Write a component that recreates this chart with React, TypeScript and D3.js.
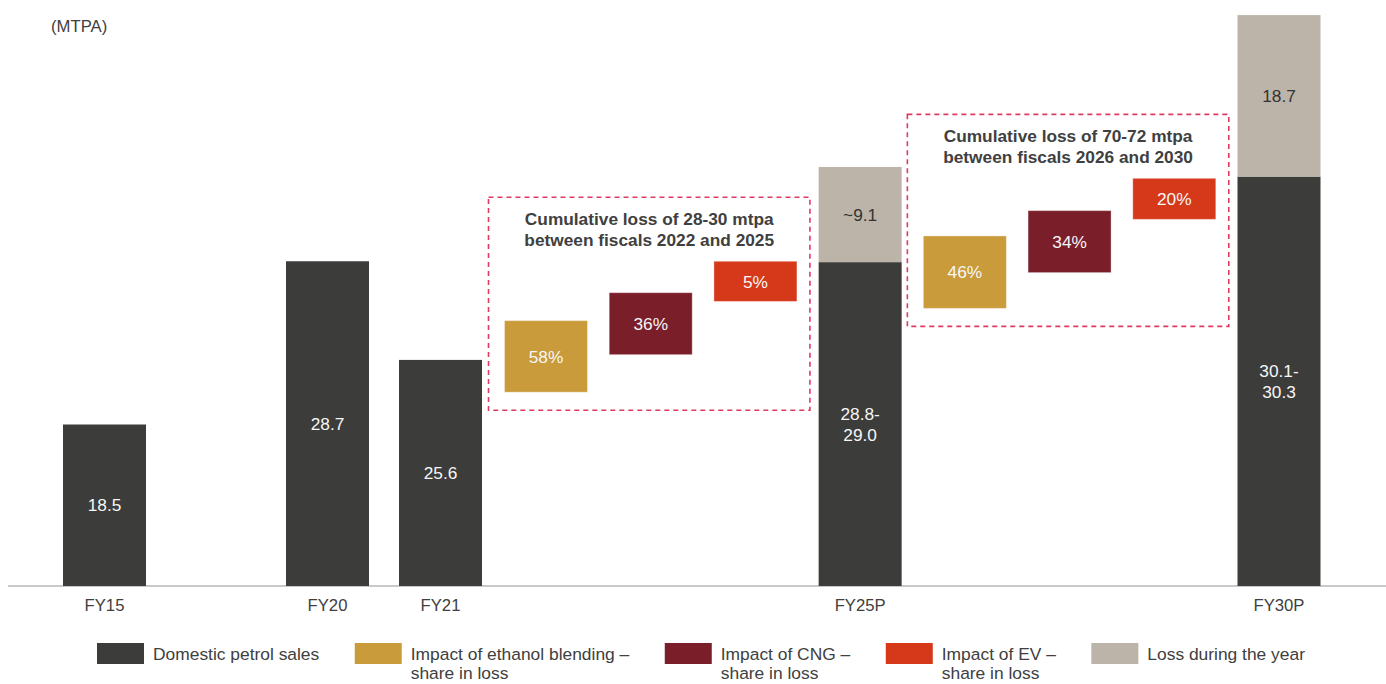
import React, { useEffect, useRef } from "react";
import * as d3 from "d3";

// ---------------- DATA ----------------
// Bars of domestic petrol sales (bar extents as drawn in the picture, MTPA-like units) and their printed labels
const categories = ["FY15", "FY20", "FY21", "FY25P", "FY30P"];
const domesticHeight = [18.5, 37.2, 25.9, 37.1, 46.9];
const domesticLabels = ["18.5", "28.7", "25.6", "28.8-\n29.0", "30.1-\n30.3"];
// Loss during the year, stacked on top of the domestic bar
const lossHeight = [0, 0, 0, 10.9, 18.5];
const lossLabels = ["", "", "", "~9.1", "18.7"];

// Floating impact boxes (share in loss), period 1: FY22-FY25, period 2: FY26-FY30
const impactKeys = ["ethanol", "cng", "ev"];
const period1Low = [22.2, 26.5, 32.6];
const period1High = [30.4, 33.6, 37.2];
const period1Labels = ["58%", "36%", "5%"];
const period2Low = [31.8, 35.9, 42.0];
const period2High = [40.1, 43.0, 46.7];
const period2Labels = ["46%", "34%", "20%"];
const annotationTitles = [
  ["Cumulative loss of 28-30 mtpa", "between fiscals 2022 and 2025"],
  ["Cumulative loss of 70-72 mtpa", "between fiscals 2026 and 2030"],
];

// Order of positions along the x axis (a blank slot between FY15 and FY20)
const slotOrder = ["FY15", "_gap", "FY20", "FY21", "p1-ethanol", "p1-cng", "p1-ev", "FY25P", "p2-ethanol", "p2-cng", "p2-ev", "FY30P"];

const legendLabels = [
  ["Domestic petrol sales"],
  ["Impact of ethanol blending –", "share in loss"],
  ["Impact of CNG –", "share in loss"],
  ["Impact of EV –", "share in loss"],
  ["Loss during the year"],
];
const unitLabel = "(MTPA)";

// ---------------- STYLE ----------------
const COLORS = {
  domestic: "#3C3C3B",
  ethanol: "#C99B3B",
  cng: "#7A1E2A",
  ev: "#D5391A",
  loss: "#BCB4A8",
  dash: "#E03A62",
  text: "#404040",
  axis: "#C9C9C9",
};
const impactColor: Record<string, string> = { ethanol: COLORS.ethanol, cng: COLORS.cng, ev: COLORS.ev };
const legendColors = [COLORS.domestic, COLORS.ethanol, COLORS.cng, COLORS.ev, COLORS.loss];
const FONT = "'Liberation Sans', Arial, Helvetica, sans-serif";

const W = 1386;
const H = 684;

export default function App() {
  const ref = useRef<SVGSVGElement | null>(null);

  useEffect(() => {
    const svg = d3.select(ref.current);
    svg.selectAll("*").remove();

    const baseY = 586;
    const y = d3.scaleLinear().domain([0, 65.41]).range([baseY, 15]);
    const slotIndex = d3.scaleOrdinal<string, number>().domain(slotOrder).range(slotOrder.map((_, i) => i));
    const xSlot = d3.scaleLinear().domain([0, 2, 3, 4, 11]).range([104.5, 327.5, 440.5, 546, 1279]);
    const xc = (key: string) => xSlot(slotIndex(key));
    const bw = 83;
    const fs = 17.3;

    const g = svg.append("g").attr("font-family", FONT);

    // axis baseline
    g.append("line")
      .attr("x1", 8).attr("x2", W).attr("y1", baseY).attr("y2", baseY)
      .attr("stroke", COLORS.axis).attr("stroke-width", 2);

    // multi-line centred text helper
    const centredText = (
      parent: any, cx: number, cy: number, lines: string[], color: string, size: number, weight = "normal", lh = 20.5
    ) => {
      const t = parent.append("text")
        .attr("text-anchor", "middle").attr("fill", color)
        .attr("font-size", size).attr("font-weight", weight);
      const first = cy - ((lines.length - 1) * lh) / 2 + size * 0.358;
      lines.forEach((ln, i) => {
        t.append("tspan").attr("x", cx).attr("y", first + i * lh).text(ln);
      });
      return t;
    };

    // domestic bars
    categories.forEach((c, i) => {
      const cx = xc(c);
      const top = y(domesticHeight[i]);
      g.append("rect")
        .attr("x", cx - bw / 2).attr("width", bw)
        .attr("y", top).attr("height", y(0) - top)
        .attr("fill", COLORS.domestic);
      centredText(g, cx, (top + y(0)) / 2, domesticLabels[i].split("\n"), "#F7F7F7", fs);
      // loss stacked
      if (lossHeight[i] > 0) {
        const lt = y(domesticHeight[i] + lossHeight[i]);
        g.append("rect")
          .attr("x", cx - bw / 2).attr("width", bw)
          .attr("y", lt).attr("height", top - lt)
          .attr("fill", COLORS.loss);
        centredText(g, cx, (lt + top) / 2, lossLabels[i].split("\n"), "#333333", fs);
      }
      // axis label
      g.append("text")
        .attr("x", cx).attr("y", 611).attr("text-anchor", "middle")
        .attr("font-size", 16.7).attr("fill", COLORS.text).text(c);
    });

    // impact groups
    const periods = [
      { prefix: "p1", low: period1Low, high: period1High, labels: period1Labels, title: annotationTitles[0] },
      { prefix: "p2", low: period2Low, high: period2High, labels: period2Labels, title: annotationTitles[1] },
    ];
    periods.forEach((p) => {
      impactKeys.forEach((k, j) => {
        const cx = xc(`${p.prefix}-${k}`);
        const t = y(p.high[j]);
        const b = y(p.low[j]);
        g.append("rect")
          .attr("x", cx - bw / 2).attr("width", bw)
          .attr("y", t).attr("height", b - t)
          .attr("fill", impactColor[k])
          .attr("stroke", "#ffffff").attr("stroke-opacity", 0.35).attr("stroke-width", 1);
        centredText(g, cx, (t + b) / 2, [p.labels[j]], "#F7F7F7", fs);
      });
      const left = xc(`${p.prefix}-${impactKeys[0]}`) - bw / 2 - 16;
      const right = xc(`${p.prefix}-${impactKeys[2]}`) + bw / 2 + 13;
      const top = y(d3.max(p.high) as number) - 64;
      const bottom = y(d3.min(p.low) as number) + 18;
      g.append("rect")
        .attr("x", left).attr("y", top)
        .attr("width", right - left).attr("height", bottom - top)
        .attr("fill", "none").attr("stroke", COLORS.dash)
        .attr("stroke-width", 1.6).attr("stroke-dasharray", "5,4");
      const tt = g.append("text")
        .attr("text-anchor", "middle").attr("fill", COLORS.text)
        .attr("font-size", fs).attr("font-weight", "bold");
      p.title.forEach((ln, i) => {
        tt.append("tspan").attr("x", (left + right) / 2).attr("y", top + 27.6 + i * 21).text(ln);
      });
    });

    // unit label
    g.append("text")
      .attr("x", 51).attr("y", 32.3).attr("font-size", 16.7)
      .attr("fill", COLORS.text).text(unitLabel);

    // legend
    let lx = 97;
    const sw = 47;
    const sh = 21;
    const lfs = 17.4;
    const ly = 643;
    legendLabels.forEach((lines, i) => {
      g.append("rect")
        .attr("x", lx).attr("y", ly).attr("width", sw).attr("height", sh)
        .attr("fill", legendColors[i]);
      const tx = lx + sw + 9;
      const t = g.append("text").attr("font-size", lfs).attr("fill", COLORS.text);
      lines.forEach((ln, k) => {
        t.append("tspan").attr("x", tx).attr("y", ly + 16.5 + k * 19.5).text(ln);
      });
      let maxW = 0;
      t.selectAll("tspan").each(function () {
        const w = (this as SVGTSpanElement).getComputedTextLength();
        if (w > maxW) maxW = w;
      });
      lx = tx + maxW + 35.5;
    });
  }, []);

  return (
    <svg
      ref={ref}
      width={W}
      height={H}
      style={{ position: "absolute", left: 0, top: 0, background: "#ffffff" }}
    />
  );
}
